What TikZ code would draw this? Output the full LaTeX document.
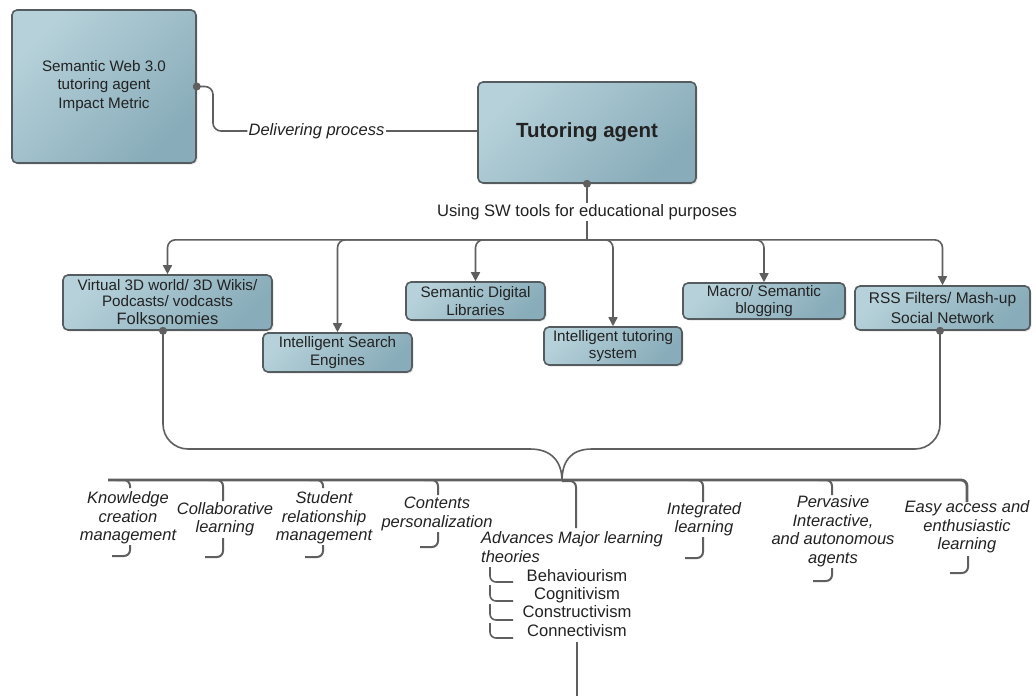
\documentclass[tikz,border=0pt]{standalone}
\usepackage{fontspec}
\setmainfont{Liberation Sans}
\usetikzlibrary{arrows.meta,shadows}
\definecolor{boxL}{HTML}{B6D1DA}
\definecolor{boxR}{HTML}{88ACB9}
\definecolor{edge}{HTML}{555C5F}
\definecolor{ln}{HTML}{5F5F5F}
\definecolor{txt}{HTML}{222222}
\begin{document}
\begin{tikzpicture}[x=1pt,y=-1pt,
 box/.style={draw=edge, line width=1.6pt, rounded corners=5pt, top color=boxL, bottom color=boxR, shading angle=45, align=center, text=txt, inner sep=1pt, font=\fontsize{15.2}{17.5}\selectfont, drop shadow={shadow xshift=1.5pt, shadow yshift=-1.5pt, opacity=0.2}},
 conn/.style={draw=ln, line width=1.6pt},
 arr/.style={conn, rounded corners=8pt, -{Triangle[length=9pt,width=9pt]}},
 dotc/.style={circle, fill=ln, inner sep=0pt, minimum size=8pt},
 itl/.style={font=\fontsize{16.5}{18.5}\selectfont\itshape, text=txt, align=center, inner sep=1pt},
 lbl/.style={font=\fontsize{16.6}{18}\selectfont, text=txt, inner sep=1pt},
 brk/.style={draw=ln, line width=2pt, rounded corners=6pt},
 bus/.style={draw=ln, line width=2.8pt, rounded corners=6pt},
]
\fill[white] (0,0) rectangle (1036,696);
\useasboundingbox (0,0) rectangle (1036,696);

% top boxes
\node[box, minimum width=184pt, minimum height=153pt] (meta) at (104,86.5) {Semantic Web 3.0\\tutoring agent\\[2pt]Impact Metric};
\node[box, minimum width=218pt, minimum height=101pt, font=\fontsize{20.5}{22}\selectfont\bfseries] (tutor) at (587,132.5) {Tutoring agent};
\node[itl] (dp) at (316.5,131) {Delivering process};
\node[lbl] (usw) at (587,212) {Using SW tools for educational purposes};

% tool boxes
\node[box, minimum width=209pt, minimum height=55pt, font=\fontsize{15.2}{16}\selectfont] (b1) at (167.5,302.5) {Virtual 3D world/ 3D Wikis/\\Podcasts/ vodcasts\\[2pt]{\fontsize{16.5}{18}\selectfont Folksonomies}};
\node[box, minimum width=149pt, minimum height=39pt] (b2) at (337.5,352.5) {Intelligent Search\\Engines};
\node[box, minimum width=139pt, minimum height=38pt] (b3) at (475.5,301) {Semantic Digital\\Libraries};
\node[box, minimum width=138pt, minimum height=38pt] (b4) at (613,346) {Intelligent tutoring\\system};
\node[box, minimum width=162pt, minimum height=36pt] (b5) at (764,301) {Macro/ Semantic\\blogging};
\node[box, minimum width=175pt, minimum height=44pt, font=\fontsize{15.5}{19.5}\selectfont] (b6) at (942.5,308) {RSS Filters/ Mash-up\\Social Network};

% meta -> tutor
\draw[conn, rounded corners=8pt] (meta.east) -- (213,86.5) -- (213,131) -- (dp.west);
\draw[conn] (dp.east) -- (tutor.west |- dp.east);
\node[dotc] (dm) at (meta.east) {};

% tutor -> tools
\draw[conn] (tutor.south) -- (usw.north);
\path (tutor.south) ++(0,56) coordinate (hub);
\draw[conn] (usw.south) -- (usw.south |- hub);
\node[dotc] (dt) at (tutor.south) {};
\foreach \c in {b1,b2,b3,b4,b5,b6}{
  \draw[arr] (hub) -| (\c.north);
}

% brace
\coordinate (d1) at ([xshift=-4.5pt]b1.south);
\coordinate (d6) at ([xshift=-2.5pt]b6.south);
\coordinate (tip) at (562,481);
\draw[conn, rounded corners=25pt] (d1) |- (530,449);
\draw[conn] (530,449) .. controls (552,449) and (562,462) .. (tip);
\draw[conn, rounded corners=25pt] (d6) |- (592,449);
\draw[conn] (592,449) .. controls (570,449) and (562,462) .. (tip);
\node[dotc] (dd1) at (d1) {};
\node[dotc] (dd6) at (d6) {};

% bus
\draw[bus] (108,480) -- (967,480) -- (967,502);
\draw[brk] (tip) -- (576,481) -- (576,528);

% top brackets
\foreach \b/\y in {130/488, 223/501, 323/488, 438/495, 703/502, 832/495}{
  \draw[brk] (\b-14,480) -- (\b,480) -- (\b,\y);
}
% bottom brackets
\foreach \b/\ya/\yb/\a in {130/545/556/112, 223/538/557/205, 323/545/557/305, 438/532/547/420, 703/537/558/685, 832/568/581/813, 968/556/573/950}{
  \draw[brk] (\b,\ya) -- (\b,\yb) -- (\a,\yb);
}

% items
\node[itl] (k) at (128,518) {Knowledge\\creation\\management};
\node[itl] (col) at (225,519) {Collaborative\\learning};
\node[itl] (stu) at (324,518) {Student\\relationship\\management};
\node[itl] (con) at (437,514) {Contents\\personalization};
\node[itl] (int) at (704,519) {Integrated\\learning};
\node[itl] (per) at (833,531) {Pervasive\\Interactive,\\and autonomous\\agents};
\node[itl] (eas) at (967,527) {Easy access and\\enthusiastic\\learning};
\node[itl, align=left, anchor=west] (adv) at (480,547) {Advances Major learning\\theories};

% learning theories
\foreach \ys/\yh/\nm/\yt/\i in {567/582/Behaviourism/576/1, 585/601/Cognitivism/595/2, 604/620/Constructivism/612/3, 623/638/Connectivism/631/4}{
  \draw[brk, line width=1.6pt] (490,\ys) -- (490,\yh) -- (513,\yh);
  \node[lbl] (s\i) at (577,\yt) {\nm};
}
\coordinate (bot) at (577,696);
\draw[conn] (bot |- 0,642) -- (bot);
\end{tikzpicture}
\end{document}
